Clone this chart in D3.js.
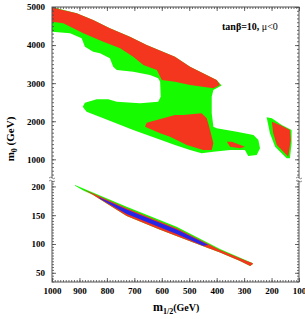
<!DOCTYPE html>
<html>
<head>
<meta charset="utf-8">
<script src="https://cdn.jsdelivr.net/npm/d3@7"></script>
<style>
body { margin: 0; background: #fff; }
svg { display: block; }
text { font-family: "Liberation Serif", "Times New Roman", serif; }
</style>
</head>
<body>
<div id="chart"></div>
<script>
// tick labels
var xTicks = [1000, 900, 800, 700, 600, 500, 400, 300, 200, 100],
    yTicksUp = [1000, 2000, 3000, 4000, 5000],
    yTicksLo = [50, 100, 150, 200];

// regions as [m1/2, m0] pairs
// upper panel (m0 in 470..5000 GeV)
var greenUpper = [[1000,5000],[910,4835],[850,4659],[789,4441],[716,4220],[655,4002],[552,3695],[497,3432],[400,3083],[382,2938],
    [412,2820],[418,2644],[418,2209],[412,1857],[400,1815],[327,1725],[266,1639],[248,1507],[242,1289],[254,1114],[285,1087],
    [297,1245],[351,1245],[412,1200],[455,1158],[497,1245],[552,1376],[704,1770],[813,2077],[874,2251],[888,2382],[880,2487],
    [837,2576],[795,2576],[764,2513],[679,2471],[613,2513],[604,2644],[606,3038],[613,3128],[643,3214],[704,3301],[764,3346],
    [777,3432],[789,3653],[825,3784],[850,3826],[880,3957],[892,4178],[934,4309],[1000,4351]];
var redTop = [[1000,4990],[910,4835],[850,4659],[789,4441],[716,4220],[655,4002],[552,3695],[497,3432],[400,3083],[388,2952],
    [412,2865],[497,2952],[552,3038],[600,3083],[618,3346],[667,3477],[704,3695],[752,3915],[813,4089],[886,4309],[959,4572],[1000,4614]];
var redMiddle = [[655,1962],[552,2164],[522,2164],[455,2209],[436,2077],[424,1770],[412,1421],[418,1245],[449,1245],[509,1376],
    [570,1594],[606,1683],[661,1857]];
var redSmall = [[363,1463],[345,1463],[297,1332],[315,1289],[351,1332]];
var greenIsland = [[218,2103],[199,2077],[163,1901],[127,1770],[127,1421],[133,1027],[145,1027],[169,1200],[187,1332],[206,1683],[212,1901]];
var redIsland = [[199,1988],[169,1901],[133,1770],[130,1507],[139,1069],[163,1245],[181,1376],[194,1683]];

// lower panel (m0 in 34..212 GeV)
var greenLower = [[916,202.4],[728,164.8],[546,130],[388,91.3],[272,67.5],[268,65.3],[278,61.8],[315,70.5],[388,85.2],
    [485,102.6],[606,124.6],[728,148.6],[850,185.1],[886,193],[916,201]];
var redLower = [[886,195],[728,162],[546,127.3],[388,89.6],[290,70.5],[268,66.5],[268,65.3],[278,61.8],[315,70.5],[388,85.2],
    [485,102.6],[606,124.6],[728,148.6],[850,185.1]];
var blueLower = [[831,181.7],[728,160],[546,125.2],[430,98.3],[449,96.8],[546,117.4],[728,152.1],[825,178.5]];

var W = 305, H = 319,
    mL = 52, mR = 299, mT = 7, mB = 282, brk = 179.5;

var x = d3.scaleLinear().domain([1000, 100]).range([mL, mR]);
var yUp = d3.scaleLinear().domain([470, 5000]).range([brk, mT]);
var yLo = d3.scaleLinear().domain([34, 212]).range([mB, brk]);

var svg = d3.select("#chart").append("svg")
    .attr("width", W)
    .attr("height", H);

var defs = svg.append("defs");
defs.append("clipPath").attr("id", "clipUp").append("rect")
    .attr("x", mL).attr("y", mT).attr("width", mR - mL).attr("height", brk - mT);
defs.append("clipPath").attr("id", "clipLo").append("rect")
    .attr("x", mL).attr("y", brk).attr("width", mR - mL).attr("height", mB - brk);

var lineUp = d3.line().x(function(d) { return x(d[0]); }).y(function(d) { return yUp(d[1]); }).curve(d3.curveLinearClosed);
var lineLo = d3.line().x(function(d) { return x(d[0]); }).y(function(d) { return yLo(d[1]); }).curve(d3.curveLinearClosed);

var RED = "#f4361f", GREEN = "#16fb00", BLUE = "#2626e6";

var gUp = svg.append("g").attr("clip-path", "url(#clipUp)");
[[greenUpper, GREEN], [greenIsland, GREEN], [redTop, RED], [redMiddle, RED], [redSmall, RED], [redIsland, RED]]
    .forEach(function(r) {
        gUp.append("path").attr("d", lineUp(r[0])).attr("fill", r[1]);
    });

var gLo = svg.append("g").attr("clip-path", "url(#clipLo)");
[[greenLower, GREEN], [redLower, RED], [blueLower, BLUE]]
    .forEach(function(r) {
        gLo.append("path").attr("d", lineLo(r[0])).attr("fill", r[1]);
    });

// axes: major + minor ticks, pointing inward on all four sides
function drawAxis(axis, tx, ty, labels) {
    var g = svg.append("g").attr("transform", "translate(" + tx + "," + ty + ")").call(axis);
    g.select(".domain").remove();
    g.selectAll("line").attr("stroke", "#444").attr("stroke-width", 0.8);
    g.selectAll("text")
        .style("font-family", '"Liberation Serif", serif')
        .style("font-weight", "bold")
        .style("font-size", "9px")
        .attr("fill", "#000");
    if (!labels) g.selectAll("text").remove();
    return g;
}
var fmt = d3.format("d");
var xMinor = d3.range(1000, 99, -10);

drawAxis(d3.axisBottom(x).tickValues(xMinor).tickSize(-2).tickFormat(""), 0, mB, false);
drawAxis(d3.axisBottom(x).tickValues(xTicks).tickSize(-4).tickPadding(6).tickFormat(fmt), 0, mB, true);
drawAxis(d3.axisTop(x).tickValues(xMinor).tickSize(-2).tickFormat(""), 0, mT, false);
drawAxis(d3.axisTop(x).tickValues(xTicks).tickSize(-4).tickFormat(""), 0, mT, false);

var upMinor = d3.range(500, 5001, 100), loMinor = d3.range(35, 211, 5);
[[mL, d3.axisLeft, true], [mR, d3.axisRight, false]].forEach(function(s) {
    var ax = s[1];
    drawAxis(ax(yUp).tickValues(upMinor).tickSize(-2).tickFormat(""), s[0], 0, false);
    drawAxis(ax(yUp).tickValues(yTicksUp).tickSize(-4).tickPadding(7).tickFormat(fmt), s[0], 0, s[2]);
    drawAxis(ax(yLo).tickValues(loMinor).tickSize(-2).tickFormat(""), s[0], 0, false);
    drawAxis(ax(yLo).tickValues(yTicksLo).tickSize(-4).tickPadding(7).tickFormat(fmt), s[0], 0, s[2]);
});

// frame
svg.append("rect")
    .attr("x", mL).attr("y", mT)
    .attr("width", mR - mL).attr("height", mB - mT)
    .attr("fill", "none").attr("stroke", "#555").attr("stroke-width", 1);

// axis break marks
[mL, mR].forEach(function(bx) {
    var b = svg.append("g").attr("transform", "translate(" + bx + "," + brk + ")");
    b.append("rect").attr("x", -3).attr("y", -1.5).attr("width", 6).attr("height", 3).attr("fill", "#fff");
    [-1.5, 1.5].forEach(function(dy) {
        b.append("path")
            .attr("d", "M-3," + dy + " q1.5,-1.5 3,0 t3,0")
            .attr("fill", "none").attr("stroke", "#555").attr("stroke-width", 0.7);
    });
});

// axis titles
var yt = svg.append("text")
    .attr("transform", "translate(14,139) rotate(-90)")
    .attr("text-anchor", "middle")
    .style("font-weight", "bold")
    .style("font-size", "11px");
yt.append("tspan").text("m");
yt.append("tspan").attr("dy", 3).style("font-size", "8px").text("0");
yt.append("tspan").attr("dy", -3).text("  (GeV)");

var xt = svg.append("text")
    .attr("x", 153).attr("y", 311)
    .style("font-weight", "bold")
    .style("font-size", "12px");
xt.append("tspan").text("m");
xt.append("tspan").attr("dy", 3).style("font-size", "8px").text("1/2");
xt.append("tspan").attr("dy", -3).style("font-size", "10px").text("(GeV)");

var ann = svg.append("text")
    .attr("x", 222).attr("y", 30)
    .style("font-size", "10px");
ann.append("tspan").style("font-weight", "bold").text("tanβ=10,");
ann.append("tspan").text(" μ<0");
</script>
</body>
</html>
